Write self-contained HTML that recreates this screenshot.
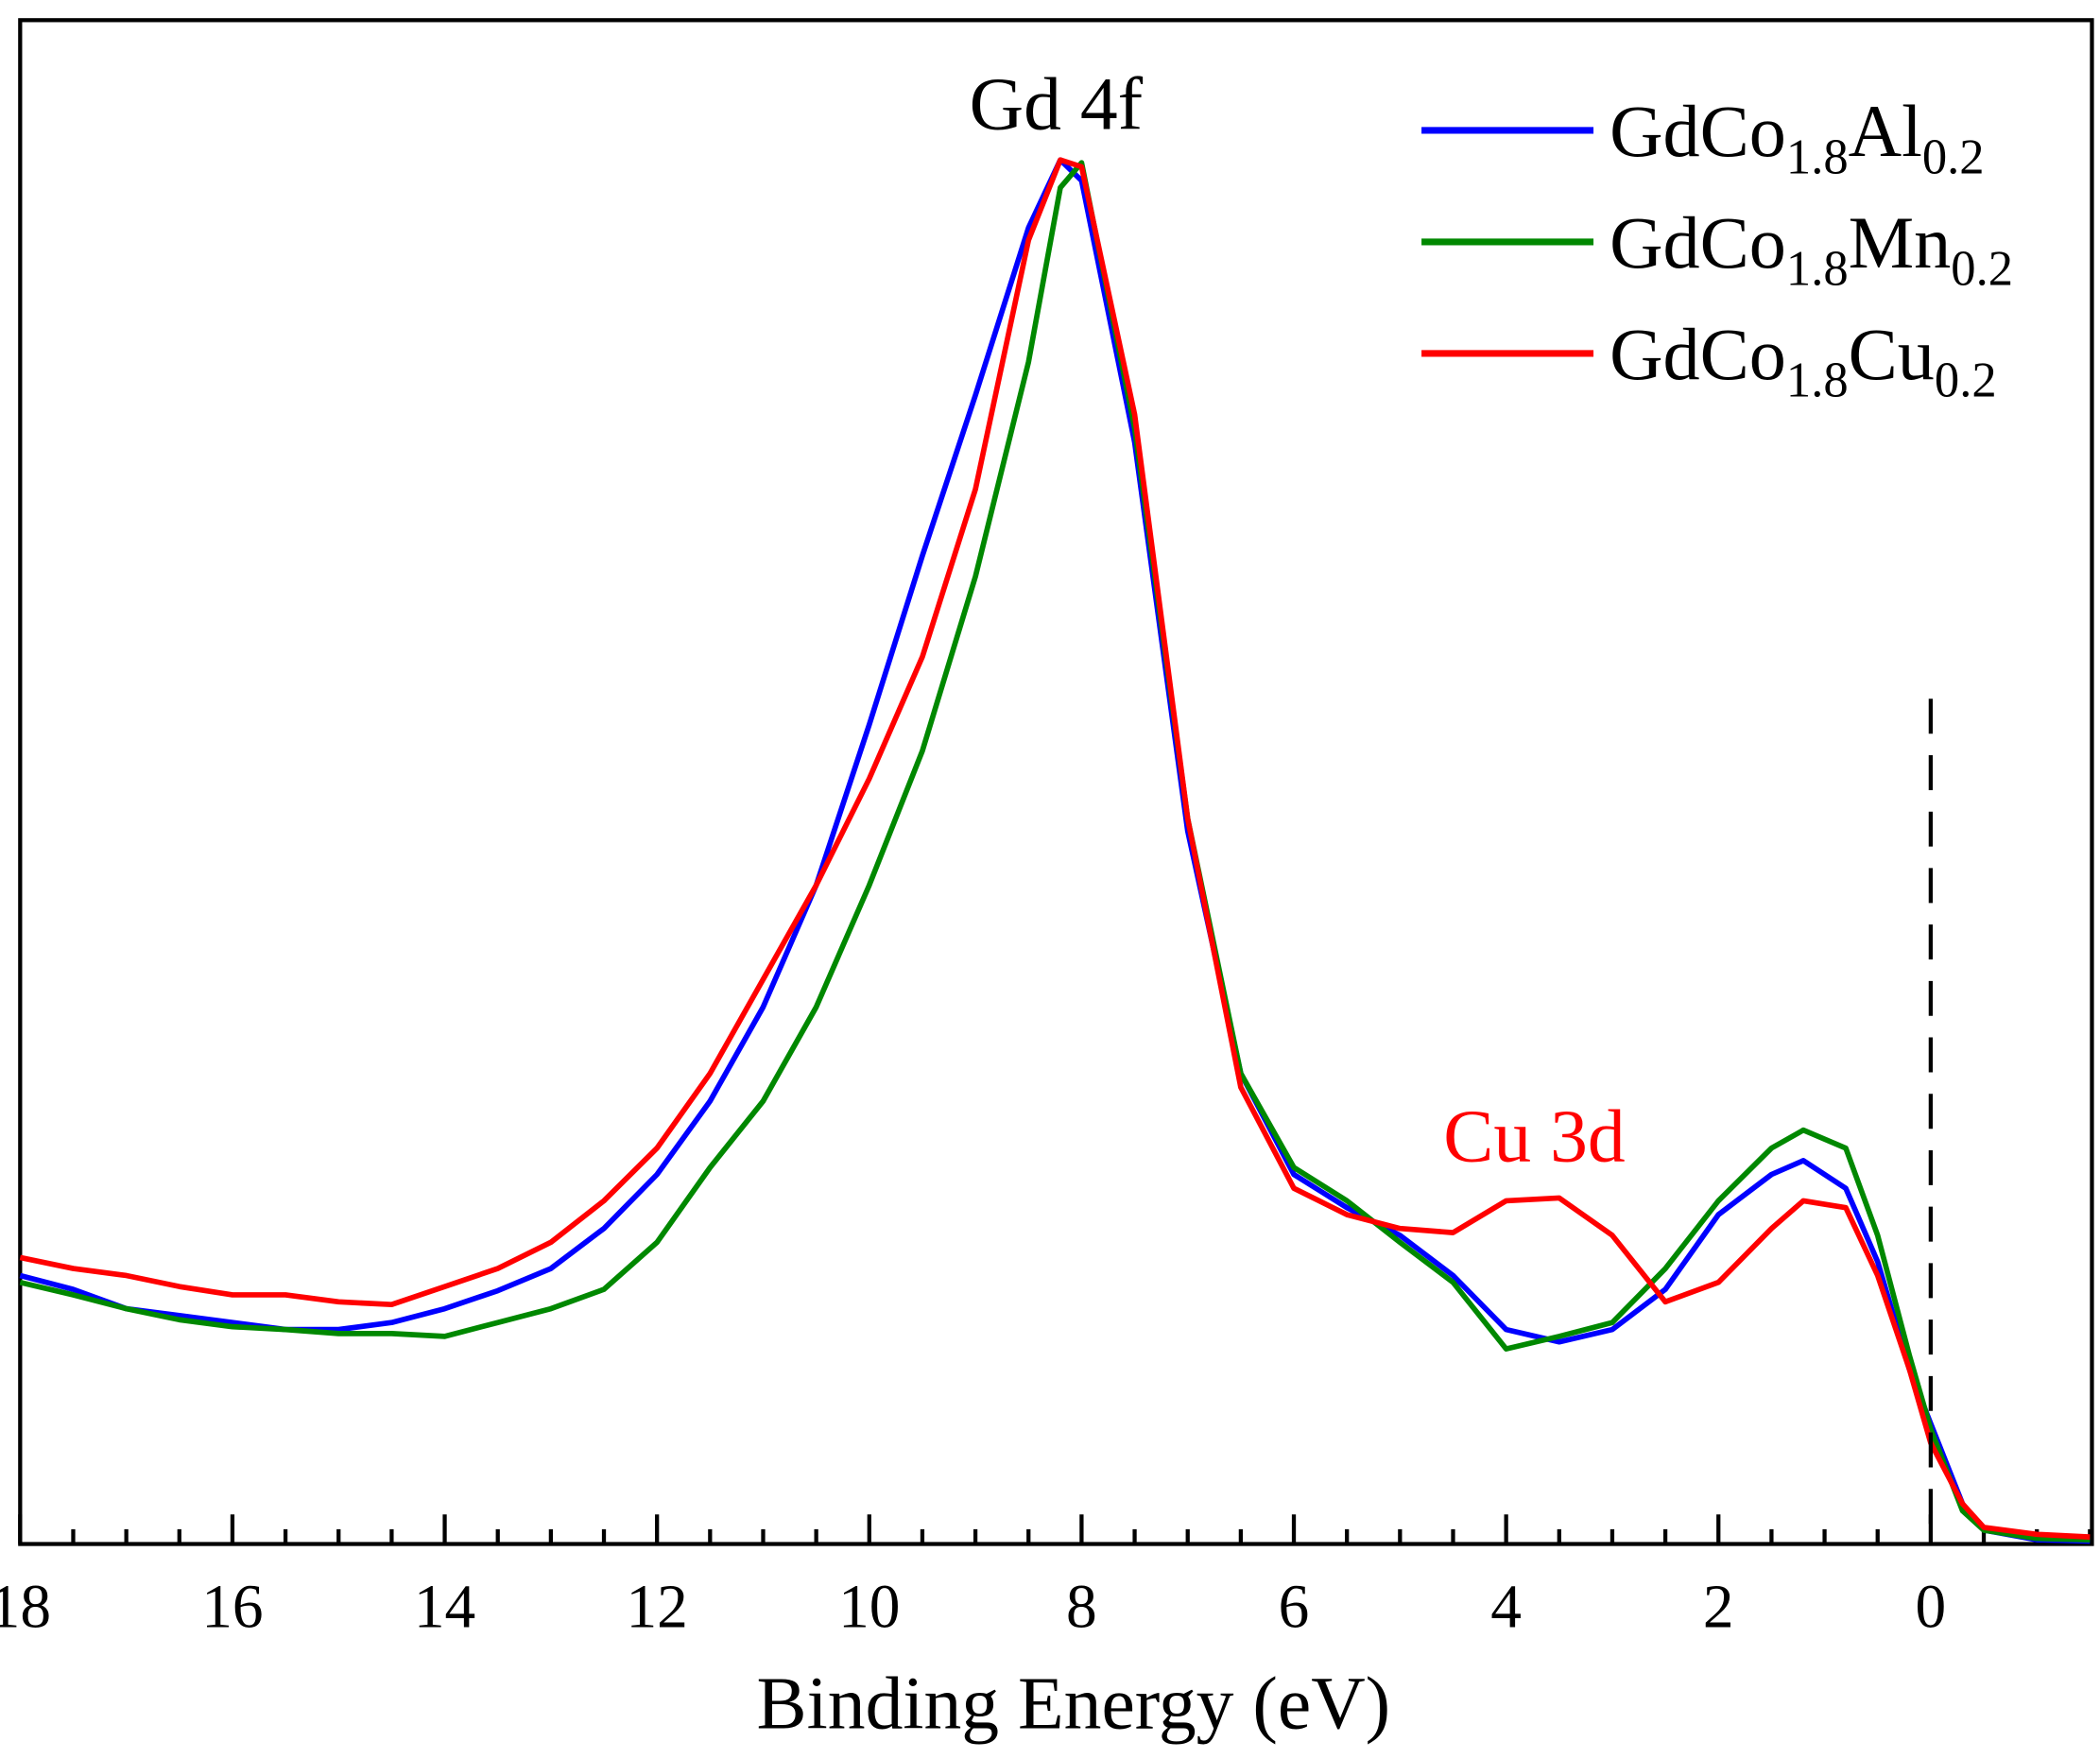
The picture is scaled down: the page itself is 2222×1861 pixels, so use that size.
<!DOCTYPE html>
<html><head><meta charset="utf-8">
<style>html,body{margin:0;padding:0;background:#fff}svg{display:block}</style></head>
<body>
<svg id="chart" width="2222" height="1861" viewBox="0 0 1563 1309" preserveAspectRatio="none" xmlns="http://www.w3.org/2000/svg" font-family="Liberation Serif, serif">
<rect x="15" y="15" width="1542" height="1134" fill="none" stroke="#000" stroke-width="3"/>
<g id="ticks"></g>
<g id="series"></g>
<line x1="1437" y1="520" x2="1437" y2="1148" stroke="#000" stroke-width="3" stroke-dasharray="26,16"/>
<text x="786" y="96" font-size="56" text-anchor="middle">Gd 4f</text>
<text x="1142" y="864" font-size="56" text-anchor="middle" fill="#f00">Cu 3d</text>
<g>
<g><line x1="1058" y1="97" x2="1186" y2="97" stroke="#00f" stroke-width="5"/><text x="1198" y="116" font-size="55">GdCo<tspan font-size="37" dy="13">1.8</tspan><tspan dy="-13">Al</tspan><tspan font-size="37" dy="13">0.2</tspan></text></g>
<g><line x1="1058" y1="180" x2="1186" y2="180" stroke="#080" stroke-width="5"/><text x="1198" y="199" font-size="55">GdCo<tspan font-size="37" dy="13">1.8</tspan><tspan dy="-13">Mn</tspan><tspan font-size="37" dy="13">0.2</tspan></text></g>
<g><line x1="1058" y1="263" x2="1186" y2="263" stroke="#f00" stroke-width="5"/><text x="1198" y="282" font-size="55">GdCo<tspan font-size="37" dy="13">1.8</tspan><tspan dy="-13">Cu</tspan><tspan font-size="37" dy="13">0.2</tspan></text></g>
</g>
<text x="799" y="1286" font-size="56" text-anchor="middle">Binding Energy (eV)</text>
</svg>
<script>
const energies = [18,17.5,17,16.5,16,15.5,15,14.5,14,13.5,13,12.5,12,11.5,11,10.5,10,9.5,9,8.5,8.2,8,7.5,7,6.5,6,5.5,5,4.5,4,3.5,3,2.5,2,1.5,1.2,0.8,0.5,0.2,0,-0.3,-0.5,-1,-1.5];
const alValues = [19.4,18.4,17.0,16.5,16.0,15.5,15.5,16.0,17.0,18.3,19.9,22.8,26.7,32.0,38.8,47.6,59.2,71.4,83.0,95.1,100,98.5,79.6,51.5,34,26.7,24.3,22.3,19.4,15.5,14.6,15.5,18.4,23.8,26.7,27.7,25.7,20.4,12.6,8.7,2.9,1,0.3,0.2];
const mnValues = [18.9,18,17,16.2,15.7,15.5,15.2,15.2,15,16,17,18.4,21.8,27.2,32,38.8,47.6,57.3,69.9,85.4,98,99.8,80.6,52.4,34,27.2,24.8,21.8,18.9,14.1,15,16,19.9,24.8,28.6,29.9,28.6,22.3,13.6,8.3,2.4,1,0.4,0.3];
const cuValues = [20.7,19.9,19.4,18.6,18,18,17.5,17.3,18.6,19.9,21.8,24.8,28.6,34,40.8,47.6,55.3,64.1,76.2,94.2,100,99.5,81.6,52.4,33,25.7,23.8,22.8,22.5,24.8,25,22.3,17.5,18.9,22.8,24.8,24.3,19.4,12.6,7.3,2.9,1.2,0.7,0.5];
const xTicks = [18,16,14,12,10,8,6,4,2,0];

const NS = 'http://www.w3.org/2000/svg';
function xs(e){ return 15 + (18 - e) * 79; }
function ys(v){ return 1149 - v * 10.3; }

const tg = document.getElementById('ticks');
for (let e = 18; e >= -1.5; e -= 0.5) {
  const major = Math.abs(e % 2) < 1e-9;
  const l = document.createElementNS(NS, 'line');
  l.setAttribute('x1', xs(e)); l.setAttribute('x2', xs(e));
  l.setAttribute('y1', 1149); l.setAttribute('y2', 1149 - (major ? 22 : 11));
  l.setAttribute('stroke', '#000'); l.setAttribute('stroke-width', 3);
  
  
  tg.appendChild(l);
}
xTicks.forEach(t => {
  const tx = document.createElementNS(NS, 'text');
  tx.setAttribute('x', xs(t)); tx.setAttribute('y', 1211);
  tx.setAttribute('font-size', 46); tx.setAttribute('text-anchor', 'middle');
  tx.textContent = t;
  
  
  tg.appendChild(tx);
});

const sg = document.getElementById('series');
[[alValues,'#00f','series-gdco-al'],[mnValues,'#080','series-gdco-mn'],[cuValues,'#f00','series-gdco-cu']].forEach(([vals,col,name]) => {
  const p = document.createElementNS(NS, 'polyline');
  p.setAttribute('points', energies.map((e,i) => xs(e).toFixed(1) + ',' + ys(vals[i]).toFixed(1)).join(' '));
  p.setAttribute('fill', 'none'); p.setAttribute('stroke', col);
  p.setAttribute('stroke-width', 4); p.setAttribute('stroke-linejoin', 'round');
  
  
  sg.appendChild(p);
});
</script>
</body></html>
